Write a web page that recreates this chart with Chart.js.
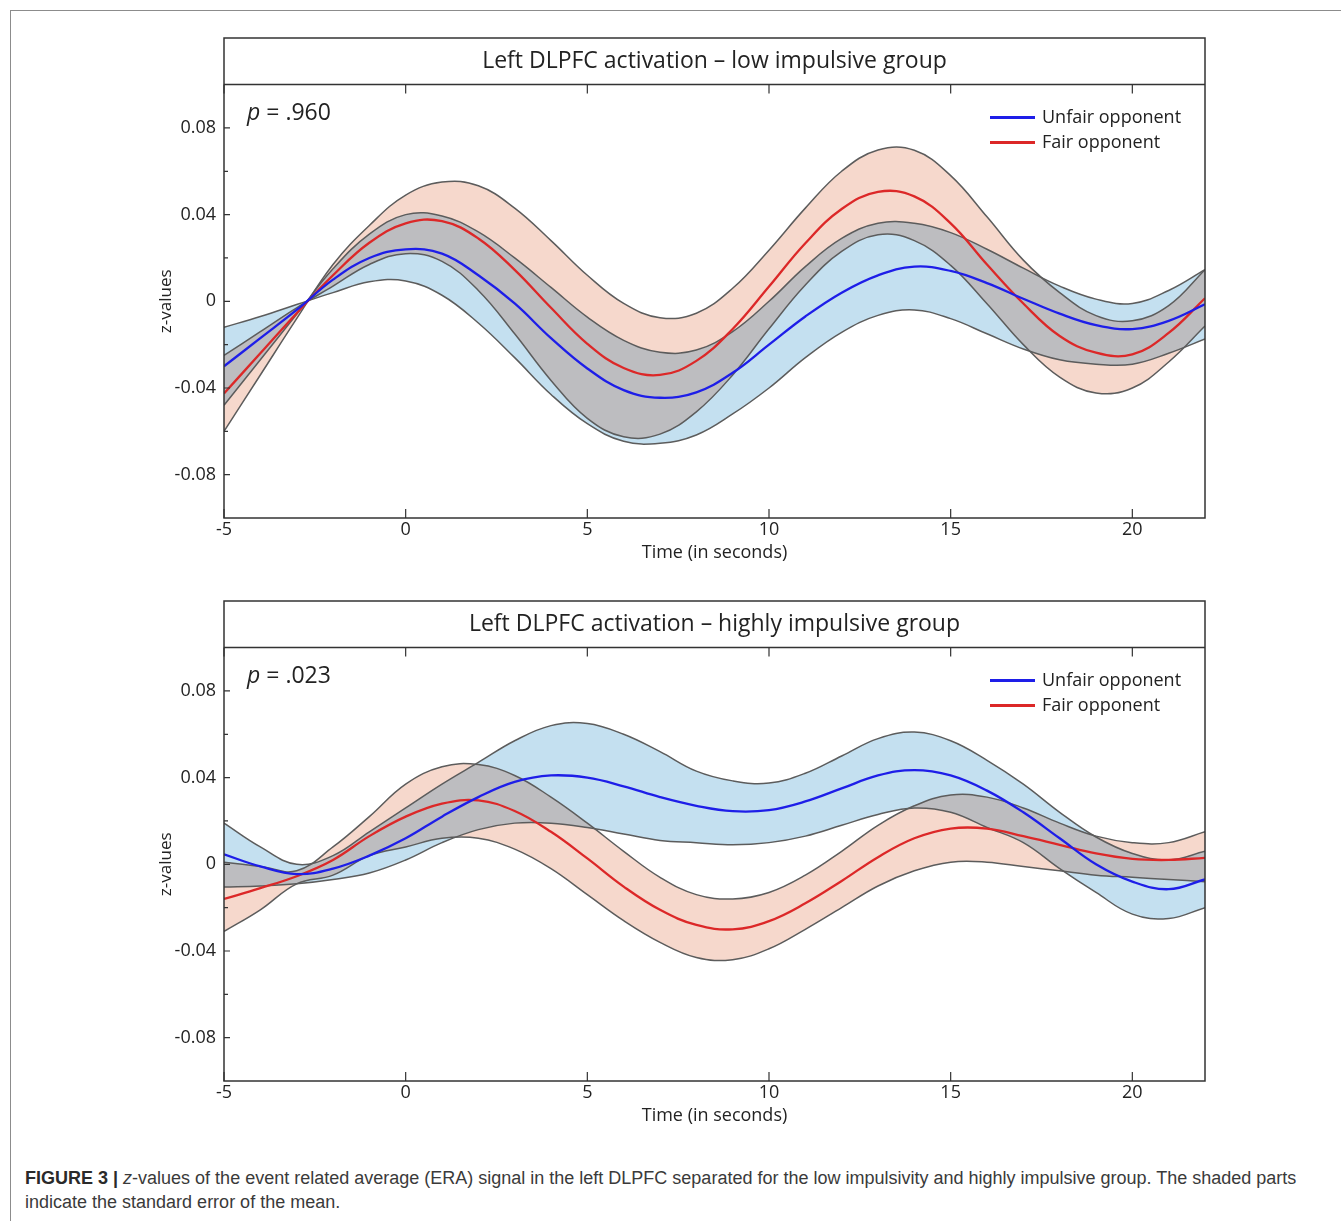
<!DOCTYPE html>
<html>
<head>
<meta charset="utf-8">
<title>Left DLPFC activation</title>
<script src="https://cdn.jsdelivr.net/npm/chart.js@4.4.1/dist/chart.umd.min.js"></script>
<style>
  html, body { margin: 0; padding: 0; background: #fff; }
  body { width: 1341px; height: 1221px; position: relative; overflow: hidden; }
  .frame { position: absolute; left: 10px; top: 10px; width: 1340px; height: 1220px;
           border-left: 1px solid #8c8c8c; border-top: 1px solid #8c8c8c; }
  canvas { position: absolute; left: 0; }
  #lowChart { top: 0; }
  #highChart { top: 563px; }
  .caption { position: absolute; left: 25px; top: 1166px; font-family: "Liberation Sans", Arial, sans-serif;
             font-size: 18px; line-height: 24px; color: #3a3a3a; white-space: nowrap; }
  .caption b { color: #2a2a2a; }
</style>
</head>
<body>
<div class="frame"></div>
<canvas id="lowChart" width="1341" height="580"></canvas>
<canvas id="highChart" width="1341" height="580"></canvas>
<div class="caption"><b>FIGURE 3 |</b> <i>z</i>-values of the event related average (ERA) signal in the left DLPFC separated for the low impulsivity and highly impulsive group. The shaded parts<br>indicate the standard error of the mean.</div>

<script>
// time axis (s) and ticks
const seconds = [-5, -4, -3, -2, -1, 0, 1, 2, 3, 4, 5, 6, 7, 8, 9, 10, 11, 12, 13, 14, 15, 16, 17, 18, 19, 20, 21, 22]
const xTicks = [-5, 0, 5, 10, 15, 20]
const yTicks = [-0.08, -0.04, 0, 0.04, 0.08]
const yMinorTicks = [-0.06, -0.02, 0.02, 0.06]
const legendLabels = ["Unfair opponent", "Fair opponent"]

// low impulsive group
const lowTitle = "Left DLPFC activation \u2013 low impulsive group"
const lowP = ".960"
const lowUnfairMean  = [-0.030, -0.017, -0.004, 0.010, 0.020, 0.024, 0.022, 0.012, -0.001, -0.017, -0.031, -0.041, -0.0445, -0.042, -0.033, -0.020, -0.007, 0.004, 0.012, 0.016, 0.014, 0.0084, 0.0012, -0.0057, -0.011, -0.0128, -0.009, -0.0014]
const lowUnfairUpper = [-0.048, -0.027, -0.006, 0.015, 0.031, 0.040, 0.0394, 0.032, 0.020, 0.0064, -0.0073, -0.018, -0.0235, -0.0225, -0.014, 0.000, 0.016, 0.029, 0.036, 0.036, 0.0317, 0.024, 0.0153, 0.007, 0.001, -0.001, 0.005, 0.0146]
const lowUnfairLower = [-0.012, -0.007, -0.0015, 0.004, 0.009, 0.0094, 0.0028, -0.010, -0.026, -0.043, -0.0565, -0.0646, -0.0655, -0.0617, -0.052, -0.040, -0.026, -0.0143, -0.0065, -0.004, -0.008, -0.015, -0.022, -0.027, -0.029, -0.029, -0.024, -0.0174]
const lowFairMean    = [-0.0425, -0.024, -0.0055, 0.012, 0.027, 0.036, 0.037, 0.029, 0.0145, -0.003, -0.0196, -0.0308, -0.034, -0.0275, -0.0128, 0.0068, 0.0268, 0.0426, 0.0505, 0.0484, 0.036, 0.017, -0.001, -0.016, -0.0237, -0.0245, -0.0146, 0.0014]
const lowFairUpper   = [-0.060, -0.034, -0.008, 0.017, 0.035, 0.049, 0.055, 0.0533, 0.043, 0.028, 0.012, -0.001, -0.0076, -0.0055, 0.006, 0.0236, 0.043, 0.060, 0.0698, 0.0697, 0.058, 0.039, 0.019, 0.004, -0.0066, -0.009, -0.002, 0.0146]
const lowFairLower   = [-0.025, -0.014, -0.003, 0.007, 0.017, 0.022, 0.0184, 0.005, -0.015, -0.0365, -0.054, -0.0625, -0.0613, -0.051, -0.034, -0.0127, 0.0075, 0.023, 0.0307, 0.028, 0.0166, -0.0011, -0.020, -0.035, -0.0423, -0.040, -0.028, -0.0114]

// highly impulsive group
const highTitle = "Left DLPFC activation \u2013 highly impulsive group"
const highP = ".023"
const highUnfairMean  = [0.0046, -0.001, -0.0045, -0.002, 0.004, 0.012, 0.022, 0.031, 0.038, 0.041, 0.040, 0.036, 0.031, 0.027, 0.0245, 0.025, 0.029, 0.035, 0.041, 0.0435, 0.041, 0.034, 0.024, 0.012, 0.000, -0.008, -0.0115, -0.007]
const highUnfairUpper = [0.019, 0.008, 0.000, 0.004, 0.015, 0.026, 0.037, 0.047, 0.057, 0.064, 0.065, 0.060, 0.052, 0.043, 0.0385, 0.0375, 0.042, 0.050, 0.058, 0.061, 0.057, 0.048, 0.037, 0.024, 0.0126, 0.005, 0.002, 0.006]
const highUnfairLower = [-0.0105, -0.010, -0.009, -0.007, -0.004, 0.002, 0.010, 0.016, 0.019, 0.019, 0.017, 0.014, 0.011, 0.010, 0.009, 0.010, 0.013, 0.018, 0.023, 0.026, 0.024, 0.017, 0.010, -0.002, -0.013, -0.023, -0.025, -0.020]
const highFairMean    = [-0.016, -0.011, -0.0055, 0.002, 0.013, 0.022, 0.028, 0.0295, 0.0246, 0.015, 0.0027, -0.0103, -0.021, -0.028, -0.030, -0.0262, -0.018, -0.0077, 0.0033, 0.012, 0.0165, 0.0165, 0.013, 0.009, 0.005, 0.0025, 0.002, 0.003]
const highFairUpper   = [0.001, -0.001, -0.003, 0.008, 0.022, 0.037, 0.045, 0.046, 0.041, 0.031, 0.019, 0.006, -0.006, -0.014, -0.016, -0.013, -0.005, 0.006, 0.018, 0.027, 0.032, 0.031, 0.026, 0.019, 0.013, 0.010, 0.010, 0.015]
const highFairLower   = [-0.031, -0.021, -0.009, -0.005, 0.004, 0.008, 0.012, 0.012, 0.007, -0.002, -0.014, -0.026, -0.036, -0.043, -0.044, -0.039, -0.030, -0.020, -0.010, -0.003, 0.001, 0.001, -0.001, -0.003, -0.005, -0.006, -0.007, -0.008]

const unfairColor = "#1e1ee8"
const fairColor = "#dc2828"
const unfairFill = "rgb(196, 224, 240)"
const fairFill = "rgb(246, 216, 204)"
const edgeColor = "#5c5c5c"
const textColor = "#222"
const fontFamily = "'Open Sans', sans-serif"

Chart.defaults.font.family = fontFamily
Chart.defaults.color = textColor

function points(values) {
  return seconds.map((s, i) => ({ x: s, y: values[i] }))
}

// fills are multiplied so the overlap turns grey; lines and frame are drawn normally
const framePlugin = {
  id: "frame",
  beforeDraw(chart) {
    chart.ctx.save()
    chart.ctx.globalCompositeOperation = "multiply"
  },
  beforeDatasetsDraw(chart) {
    // filler has already painted the bands by now
    chart.ctx.globalCompositeOperation = "source-over"
  },
  afterDraw(chart, args, opts) {
    const { ctx, chartArea: a } = chart
    const x = chart.scales.x
    const y = chart.scales.y
    const titleTop = chart.titleBlock ? chart.titleBlock.top : a.top - 46
    ctx.globalCompositeOperation = "source-over"

    ctx.strokeStyle = "#333"
    ctx.lineWidth = 1.5
    ctx.strokeRect(a.left, titleTop, a.right - a.left, a.bottom - titleTop)
    ctx.beginPath()
    ctx.moveTo(a.left, a.top)
    ctx.lineTo(a.right, a.top)
    ctx.stroke()

    ctx.lineWidth = 1.2
    ctx.beginPath()
    xTicks.forEach(v => {
      const px = x.getPixelForValue(v)
      ctx.moveTo(px, a.bottom)
      ctx.lineTo(px, a.bottom - 9)
      ctx.moveTo(px, a.top)
      ctx.lineTo(px, a.top + 9)
    })
    yTicks.forEach(v => {
      const py = y.getPixelForValue(v)
      ctx.moveTo(a.left, py)
      ctx.lineTo(a.left + 6, py)
    })
    yMinorTicks.forEach(v => {
      const py = y.getPixelForValue(v)
      ctx.moveTo(a.left, py)
      ctx.lineTo(a.left + 4, py)
    })
    ctx.stroke()

    ctx.fillStyle = textColor
    ctx.textBaseline = "middle"
    ctx.textAlign = "left"
    const px = a.left + 23
    const py = a.top + 29
    ctx.font = "italic 23px " + fontFamily
    ctx.fillText("p", px, py)
    const pw = ctx.measureText("p").width
    ctx.font = "23px " + fontFamily
    ctx.fillText(" = " + opts.p, px + pw, py)

    const lx = a.right - 215
    chart.data.datasets.slice(0, 2).forEach((ds, i) => {
      const ly = a.top + 33 + i * 25
      ctx.strokeStyle = ds.borderColor
      ctx.lineWidth = 3
      ctx.beginPath()
      ctx.moveTo(lx, ly)
      ctx.lineTo(lx + 45, ly)
      ctx.stroke()
      ctx.fillStyle = textColor
      ctx.font = "18px " + fontFamily
      ctx.fillText(ds.label, lx + 52, ly)
    })

    ctx.restore()
  }
}

function makeChart(id, title, p, unfairMean, unfairUpper, unfairLower, fairMean, fairUpper, fairLower) {
  return new Chart(document.getElementById(id), {
    type: "line",
    data: {
      datasets: [
        { label: legendLabels[0], data: points(unfairMean), borderColor: unfairColor, borderWidth: 2.3, fill: false, order: 0 },
        { label: legendLabels[1], data: points(fairMean), borderColor: fairColor, borderWidth: 2.3, fill: false, order: 0 },
        { label: "unfair upper", data: points(unfairUpper), borderColor: edgeColor, borderWidth: 1.5, backgroundColor: unfairFill, fill: "+1", order: 2 },
        { label: "unfair lower", data: points(unfairLower), borderColor: edgeColor, borderWidth: 1.5, fill: false, order: 2 },
        { label: "fair upper", data: points(fairUpper), borderColor: edgeColor, borderWidth: 1.5, backgroundColor: fairFill, fill: "+1", order: 1 },
        { label: "fair lower", data: points(fairLower), borderColor: edgeColor, borderWidth: 1.5, fill: false, order: 1 }
      ]
    },
    options: {
      responsive: false,
      devicePixelRatio: 1,
      animation: false,
      // right padding leaves room for an empty right axis so the title centres over the plot
      layout: { padding: { left: 150, right: 62, top: 38, bottom: 2 } },
      elements: { point: { radius: 0 }, line: { tension: 0.4 } },
      plugins: {
        legend: { display: false },
        tooltip: { enabled: false },
        filler: { drawTime: "beforeDatasetsDraw" },
        title: {
          display: true,
          text: title,
          color: textColor,
          font: { size: 23, weight: "normal" },
          padding: { top: 10, bottom: 9 }
        },
        frame: { p: p }
      },
      scales: {
        x: {
          type: "linear",
          min: -5,
          max: 22,
          grid: { display: false, drawTicks: false },
          border: { display: false },
          ticks: { padding: 1, font: { size: 18 }, autoSkip: false, maxRotation: 0 },
          afterBuildTicks: s => { s.ticks = xTicks.map(v => ({ value: v })) },
          afterFit: s => { s.height = 60 },
          title: { display: true, text: "Time (in seconds)", font: { size: 18 }, padding: { top: 0, bottom: 14 } }
        },
        y: {
          min: -0.1,
          max: 0.1,
          grid: { display: false, drawTicks: false },
          border: { display: false },
          ticks: { padding: 8, font: { size: 18 }, callback: v => v === 0 ? "0" : v.toFixed(2) },
          afterBuildTicks: s => { s.ticks = yTicks.map(v => ({ value: v })) },
          afterFit: s => { s.width = 74 },
          title: { display: true, text: "z-values", font: { size: 17 }, padding: { top: 6, bottom: 0 } }
        },
        yRight: {
          position: "right",
          min: -0.1,
          max: 0.1,
          grid: { display: false, drawTicks: false },
          border: { display: false },
          ticks: { display: false },
          afterFit: s => { s.width = 74 }
        }
      }
    },
    plugins: [framePlugin]
  })
}

makeChart("lowChart", lowTitle, lowP, lowUnfairMean, lowUnfairUpper, lowUnfairLower, lowFairMean, lowFairUpper, lowFairLower)
makeChart("highChart", highTitle, highP, highUnfairMean, highUnfairUpper, highUnfairLower, highFairMean, highFairUpper, highFairLower)
</script>
</body>
</html>
